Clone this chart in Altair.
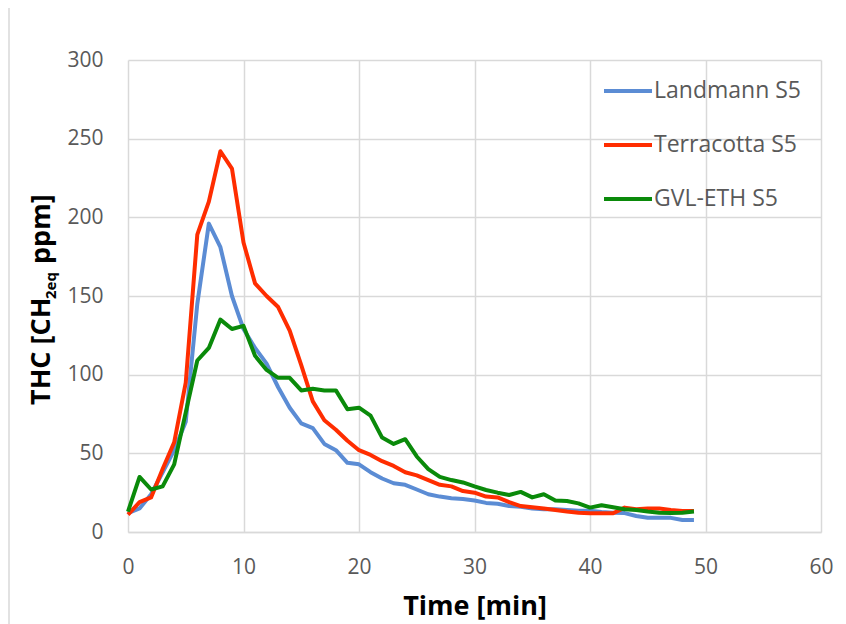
import altair as alt
import pandas as pd

time_min = list(range(50))
landmann = [12, 15, 24, 38, 52, 70, 145, 196, 181, 150, 129, 117, 107, 92, 79, 69, 66, 56, 52, 44,
            43, 38, 34, 31, 30, 27, 24, 22.5, 21.5, 21, 20, 18.5, 18, 16.5, 16, 15, 14.5, 14.5, 14, 13.5,
            13.5, 12.7, 12.3, 12, 10.2, 9, 9, 9, 7.6, 7.6]
terracotta = [11, 19, 22, 40, 57, 95, 189, 210, 242, 231, 184, 158, 150, 143, 128, 106, 83, 71, 65, 58,
              52, 49, 45, 42, 38, 36, 33, 30, 29, 26, 25, 22.5, 22, 19, 16.5, 15.7, 15, 14, 13, 12.3,
              11.9, 11.9, 11.9, 15.5, 14.4, 15, 15, 14, 13.3, 13.3]
gvl_eth = [13, 35, 27, 29, 43, 76, 109, 117, 135, 129, 131, 112, 103, 98, 98, 90, 91, 90, 90, 78,
           79, 74, 60, 56, 59, 48, 40, 35, 33, 31.5, 29, 26.7, 25, 23.5, 25.5, 22, 24, 20, 19.7, 18.2,
           15.5, 17, 15.7, 14.4, 14, 13, 12.3, 12, 12.3, 13]
series_names = ["Landmann S5", "Terracotta S5", "GVL-ETH S5"]
series_colors = ["#5B8CD4", "#FF2D00", "#0A8A0A"]
x_ticks = [0, 10, 20, 30, 40, 50, 60]
y_ticks = [0, 50, 100, 150, 200, 250, 300]

frames = []
for name, vals in zip(series_names, [landmann, terracotta, gvl_eth]):
    frames.append(pd.DataFrame({"t": time_min, "v": vals, "s": name}))
df = pd.concat(frames, ignore_index=True)

W, H = 693, 472
FONT = "Open Sans"

xs = alt.X("t:Q", scale=alt.Scale(domain=[0, 60], nice=False),
           axis=alt.Axis(values=x_ticks, title="Time [min]", grid=True, ticks=False,
                         labelFlush=False, labelPadding=24, titlePadding=16,
                         domainColor="#d9d9d9", domainWidth=1.5))
ys = alt.Y("v:Q", scale=alt.Scale(domain=[0, 300], nice=False),
           axis=alt.Axis(values=y_ticks, title=None, grid=True, ticks=False, domain=False,
                         labelFlush=False, labelPadding=25))
color = alt.Color("s:N", scale=alt.Scale(domain=series_names, range=series_colors),
                  legend=alt.Legend(title=None, orient="none", legendX=474, legendY=5,
                                    symbolType="stroke", symbolSize=2304, symbolStrokeWidth=4,
                                    labelFontSize=23, labelColor="#595959", labelFont=FONT,
                                    labelOffset=0, rowPadding=16, padding=0))

layers = []
for name in series_names:
    layers.append(
        alt.Chart(df).transform_filter(alt.datum.s == name)
        .mark_line(strokeWidth=4, strokeJoin="round")
        .encode(x=xs, y=ys, color=color)
    )

frame = alt.Chart(pd.DataFrame({"k": [0]})).mark_rect(
    fill=None, stroke="#d9d9d9", strokeWidth=1.5
).encode(x=alt.value(-119), x2=alt.value(W + 40), y=alt.value(-53), y2=alt.value(H + 140))

t1 = alt.Chart(pd.DataFrame({"txt": ["THC [CH"]})).mark_text(
    angle=270, align="left", baseline="alphabetic", font=FONT, fontWeight="bold",
    fontSize=27, color="black").encode(text="txt:N", x=alt.value(-78), y=alt.value(345))
t2 = alt.Chart(pd.DataFrame({"txt": ["2eq"]})).mark_text(
    angle=270, align="left", baseline="alphabetic", font=FONT, fontWeight="bold",
    fontSize=15, color="black").encode(text="txt:N", x=alt.value(-72), y=alt.value(239))
t3 = alt.Chart(pd.DataFrame({"txt": ["ppm]"]})).mark_text(
    angle=270, align="left", baseline="alphabetic", font=FONT, fontWeight="bold",
    fontSize=27, color="black").encode(text="txt:N", x=alt.value(-78), y=alt.value(204))

chart = alt.layer(frame, *layers, t1, t2, t3).properties(
    width=W, height=H,
    autosize=alt.AutoSizeParams(type="none"),
    padding={"left": 120, "top": 52, "right": 16, "bottom": 92},
).configure_view(stroke=None).configure_axis(
    gridColor="#d9d9d9", gridWidth=1.5, labelFont=FONT, labelFontSize=21,
    labelColor="#595959", titleFont=FONT, titleFontSize=27, titleFontWeight="bold",
    titleColor="black"
)

chart.save("out.html", embed_options={"renderer": "svg", "actions": False})
